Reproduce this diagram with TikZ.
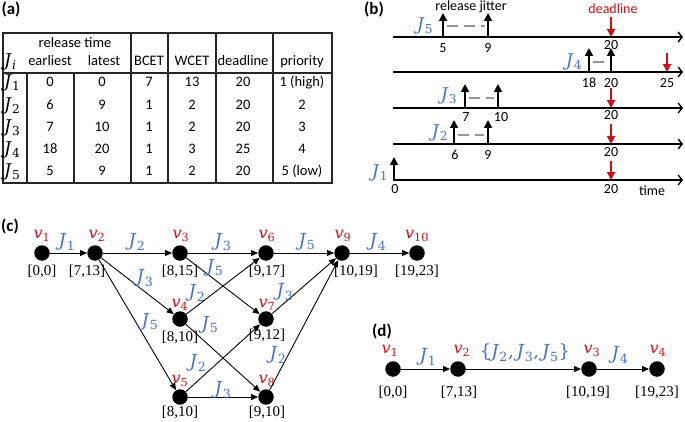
\documentclass[tikz,border=0pt]{standalone}
\usepackage{fontspec}
\setmainfont{Carlito}
\newfontfamily\ivfont{Liberation Serif}
\newfontfamily\jfont{DejaVu Serif}
\usetikzlibrary{arrows.meta}

\definecolor{jblue}{RGB}{68,114,196}
\definecolor{vred}{RGB}{204,16,24}
\definecolor{jitgray}{RGB}{150,150,150}

% italic name with upright index, Cambria-math look
\newcommand\mv[2]{\textit{#1}\textsubscript{#2}}

\tikzset{
  panel/.style={font=\fontsize{17}{19}\selectfont\bfseries, inner sep=0pt},
  tabtxt/.style={font=\fontsize{14.5}{16}\selectfont, inner sep=0pt, text height=10pt, text depth=3pt},
  tabj/.style={font={\jfont\fontsize{17.5}{19}\selectfont}, inner sep=0pt},
  tabline/.style={line width=1.1pt, black!85},
  jname/.style={font={\jfont\fontsize{17.5}{19}\selectfont}, text=jblue, inner sep=0pt},
  tnum/.style={font=\fontsize{14}{16}\selectfont, inner sep=0pt},
  timeaxis/.style={line width=1.4pt, -{Straight Barb[length=4pt,width=10pt]}},
  rel/.style={line width=1.8pt, -{Triangle[length=8pt,width=8pt]}},
  dl/.style={line width=1.8pt, vred, -{Triangle[length=8pt,width=8pt]}},
  jit/.style={line width=1.8pt, jitgray, dash pattern=on 11pt off 6pt},
  vtx/.style={circle, fill=black, minimum size=15.5pt, inner sep=0pt},
  vlab/.style={font={\jfont\fontsize{16}{18}\selectfont}, text=vred, inner sep=0pt},
  ivl/.style={font={\ivfont\fontsize{15}{17}\selectfont}, inner sep=0pt},
  jlab/.style={font={\jfont\fontsize{18}{20}\selectfont}, text=jblue, inner sep=0pt},
  dep/.style={line width=0.9pt, -{Triangle[length=7pt,width=6pt]}},
}

\begin{document}
\begin{tikzpicture}[x=1pt,y=-1pt]
\useasboundingbox (0,0) rectangle (685,422);

% (a) job table
\node[panel] (pa) at (11,9) {(a)};
\draw[tabline] (3,33) rectangle (332,183);
\draw[tabline] (3,73) -- (332,73);
\foreach \x in {131,168,216,273} \draw[tabline] (\x,33) -- (\x,183);
\foreach \x in {27,74} \draw[tabline] (\x,73) -- (\x,183);
\node[tabtxt] (hrel) at (75,44) {release time};
\node[tabj, anchor=west] (hj) at (4,62) {\mv{J}{\textit{i}}};
\foreach \x/\t in {50/earliest,104/latest,149/BCET,192/WCET,243/deadline,302/priority}
  \node[tabtxt] (h\t) at (\x,62) {\t};
\foreach \r/\y/\e/\l/\b/\w/\d/\p in {1/83/0/0/7/13/20/1 (high),2/106/6/9/1/2/20/2,
    3/128/7/10/1/2/20/3,4/150/18/20/1/3/25/4,5/172/5/9/1/2/20/5 (low)} {
  \node[tabj, anchor=west] (j\r) at (4,\y) {\mv{J}{\r}};
  \node[tabtxt] (e\r) at (50,\y) {\e};
  \node[tabtxt] (l\r) at (102,\y) {\l};
  \node[tabtxt] (b\r) at (149,\y) {\b};
  \node[tabtxt] (w\r) at (192,\y) {\w};
  \node[tabtxt] (d\r) at (243,\y) {\d};
  \node[tabtxt] (p\r) at (302,\y) {\p};
}

% (b) release jitter on time lines
\node[panel] (pb) at (374,9) {(b)};
\node[tnum] (rj) at (471,7) {release jitter};
\node[tnum, text=vred] (dlt) at (613,9) {deadline};
\foreach \r/\y in {5/37,4/72,3/108,2/144,1/180} {
  \coordinate (s\r) at (393,\y);
  \coordinate (t\r) at (683,\y);
  \draw[timeaxis] (s\r) -- (t\r);
}
% J5
\draw[jit] (447,26) -- (485,26);
\draw[rel] (443,37) -- (443,13);
\draw[rel] (488,37) -- (488,13);
\draw[dl] (611,17) -- (611,37);
\node[jname] (n5) at (425,26) {\mv{J}{5}};
\node[tnum] (q5a) at (443,48) {5};
\node[tnum] (q5b) at (488,48) {9};
\node[tnum] (q5c) at (611,45) {20};
% J4
\draw[jit] (593,62) -- (607,62);
\draw[rel] (589,72) -- (589,48);
\draw[rel] (611,72) -- (611,48);
\draw[dl] (667,53) -- (667,72);
\node[jname] (n4) at (574,62) {\mv{J}{4}};
\node[tnum] (q4a) at (589,83) {18};
\node[tnum] (q4b) at (611,83) {20};
\node[tnum] (q4c) at (667,83) {25};
% J3
\draw[jit] (469,98) -- (494,98);
\draw[rel] (465,108) -- (465,84);
\draw[rel] (498,108) -- (498,84);
\draw[dl] (611,88) -- (611,108);
\node[jname] (n3) at (449,96) {\mv{J}{3}};
\node[tnum] (q3a) at (466,117) {7};
\node[tnum] (q3b) at (501,117) {10};
\node[tnum] (q3c) at (611,115) {20};
% J2
\draw[jit] (458,135) -- (484,135);
\draw[rel] (454,144) -- (454,120);
\draw[rel] (488,144) -- (488,120);
\draw[dl] (611,124) -- (611,144);
\node[jname] (n2) at (440,133) {\mv{J}{2}};
\node[tnum] (q2a) at (455,155) {6};
\node[tnum] (q2b) at (488,155) {9};
\node[tnum] (q2c) at (611,152) {20};
% J1
\draw[rel] (394,180) -- (394,157);
\draw[dl] (611,161) -- (611,180);
\node[jname] (n1) at (380,173) {\mv{J}{1}};
\node[tnum] (q1a) at (395,189) {0};
\node[tnum] (q1c) at (611,189) {20};
\node[tnum] (tm) at (652,191) {time};

% (c) state graph
\node[panel] (pc) at (10,226) {(c)};
\foreach \n/\x/\y/\vx/\vy/\ix/\iy/\iv in {
    1/42/253/42/236/42/271/{[0,0]}, 2/95/253/97/236/87/271/{[7,13]},
    3/180/253/181/236/180/271/{[8,15]}, 6/266/253/267/236/267/271/{[9,17]},
    9/342/253/343/236/356/271/{[10,19]}, 10/417/253/417/236/417/271/{[19,23]},
    4/180/319/180/305/180/337/{[8,10]}, 7/266/319/267/305/267/335/{[9,12]},
    5/180/397/180/381/180/412/{[8,10]}, 8/266/397/267/381/267/412/{[9,10]}} {
  \node[vtx] (v\n) at (\x,\y) {};
  \node[vlab] (vl\n) at (\vx,\vy) {\mv{v}{\n}};
  \node[ivl] (iv\n) at (\ix,\iy) {\iv};
}
\foreach \a/\b in {1/2,2/3,3/6,6/9,9/10,2/4,2/5,3/7,4/6,4/8,5/7,5/8,7/9,8/9}
  \draw[dep] (v\a) -- (v\b);
\foreach \a/\b/\x/\y/\j in {1/2/67/242/1, 2/3/137/242/2, 3/6/223/242/3, 6/9/307/242/5,
    9/10/378/242/4, 2/4/145/278/3, 2/5/150/322/5, 3/7/215/268/5, 4/6/197/293/2,
    4/8/210/325/5, 5/7/198/363/2, 5/8/223/390/3, 7/9/285/292/3, 8/9/278/355/2}
  \node[jlab] (j\a\b) at (\x,\y) {\mv{J}{\j}};

% (d) merged graph
\node[panel] (pd) at (382,331) {(d)};
\foreach \n/\x/\vx/\ix/\iv in {1/393/390/393/{[0,0]}, 2/458/462/459/{[7,13]},
    3/589/592/588/{[10,19]}, 4/657/658/657/{[19,23]}} {
  \node[vtx] (d\n) at (\x,369) {};
  \node[vlab] (dl\n) at (\vx,351) {\mv{v}{\n}};
  \node[ivl] (di\n) at (\ix,392) {\iv};
}
\foreach \a/\b in {1/2,2/3,3/4}
  \draw[dep] (d\a) -- (d\b);
\node[jlab] (dj12) at (428,357) {\mv{J}{1}};
\node[jlab] (dj23) at (525,353) {\{\mv{J}{2},\,\mv{J}{3},\,\mv{J}{5}\}};
\node[jlab] (dj34) at (620,355) {\mv{J}{4}};
\end{tikzpicture}
\end{document}
